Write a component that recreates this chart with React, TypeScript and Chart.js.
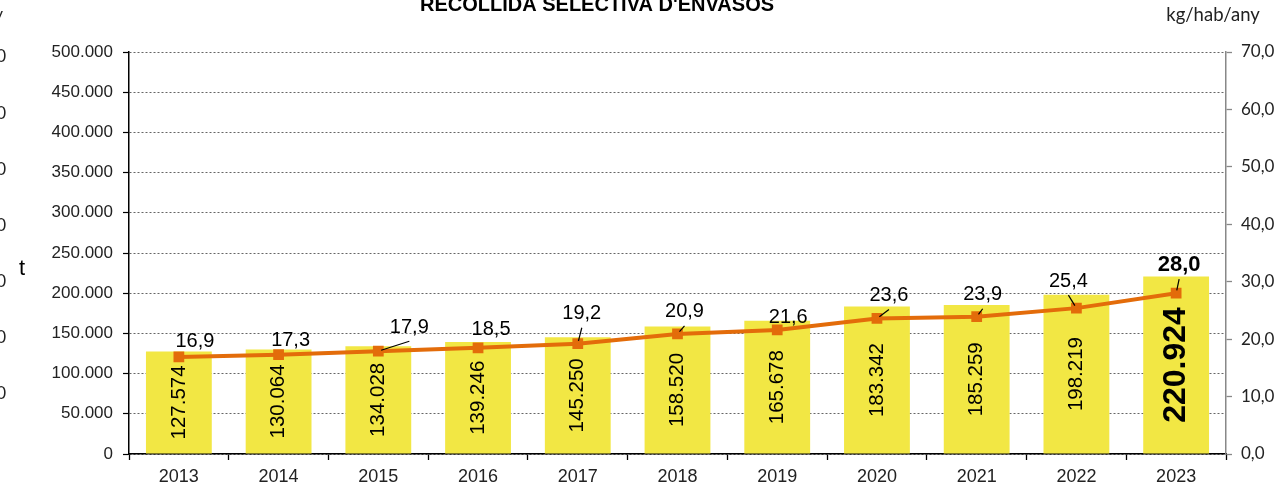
import React, { useEffect, useRef } from 'react';
import { Chart, registerables } from 'chart.js';

Chart.register(...registerables);

const years = ['2013', '2014', '2015', '2016', '2017', '2018', '2019', '2020', '2021', '2022', '2023'];
const tonnes = [127574, 130064, 134028, 139246, 145250, 158520, 165678, 183342, 185259, 198219, 220924];
const kgPerHab = [16.9, 17.3, 17.9, 18.5, 19.2, 20.9, 21.6, 23.6, 23.9, 25.4, 28.0];
const leftTicksMax = 500000;
const leftTicksStep = 50000;
const rightTicksMax = 70;
const rightTicksStep = 10;
const titleText = "RECOLLIDA SELECTIVA D'ENVASOS";
const leftAxisTitle = 't';
const rightAxisTitle = 'kg/hab/any';
const edgeLabels = ['70,0', '60,0', '50,0', '40,0', '30,0', '20,0', '10,0'];

// label placement (style): offset of the line label from its point, and whether it has a leader line
const lineLabelOffsets: [number, number, boolean][] = [
  [16, -15, false],
  [12, -14, false],
  [31, -24, true],
  [13, -18, false],
  [4, -30, true],
  [7, -22, true],
  [11, -12, false],
  [12, -23, true],
  [6, -22, true],
  [-8, -27, true],
  [3, -28, true],
];

const fmtThousands = (n: number) => String(Math.round(n)).replace(/\B(?=(\d{3})+(?!\d))/g, '.');
const fmtDec = (n: number) => n.toFixed(1).replace('.', ',');

const ARIAL = '"Liberation Sans", Arial, sans-serif';
const CALIBRI = 'Lato, "Open Sans", sans-serif';

const overlay = {
  id: 'overlay',
  afterDatasetsDraw(chart: any) {
    const ctx = chart.ctx as CanvasRenderingContext2D;
    const barMeta = chart.getDatasetMeta(0);
    const lineMeta = chart.getDatasetMeta(1);
    const last = tonnes.length - 1;
    ctx.save();
    ctx.fillStyle = '#000';
    ctx.textAlign = 'center';
    ctx.textBaseline = 'middle';
    barMeta.data.forEach((bar: any, i: number) => {
      const p = bar.getProps(['x', 'y', 'base'], true);
      ctx.save();
      ctx.translate(p.x, (p.y + p.base) / 2);
      ctx.rotate(-Math.PI / 2);
      ctx.font = i === last ? `bold 32px ${ARIAL}` : `20.5px ${ARIAL}`;
      ctx.fillText(fmtThousands(tonnes[i]), 0, 0);
      ctx.restore();
    });
    lineMeta.data.forEach((pt: any, i: number) => {
      const [dx, dy, leader] = lineLabelOffsets[i];
      const lx = pt.x + dx;
      const ly = pt.y + dy;
      if (leader) {
        const ex = lx;
        const ey = ly + 14;
        const vx = ex - pt.x;
        const vy = ey - pt.y;
        const len = Math.hypot(vx, vy) || 1;
        ctx.beginPath();
        ctx.strokeStyle = '#000';
        ctx.lineWidth = 1.2;
        ctx.moveTo(pt.x + (vx / len) * 3, pt.y + (vy / len) * 3);
        ctx.lineTo(ex, ey);
        ctx.stroke();
      }
      ctx.font = i === last ? `bold 22px ${ARIAL}` : `20px ${ARIAL}`;
      ctx.fillText(fmtDec(kgPerHab[i]), lx, ly);
    });
    ctx.restore();
  },
  afterDraw(chart: any) {
    const ctx = chart.ctx as CanvasRenderingContext2D;
    ctx.save();
    ctx.fillStyle = '#000';
    ctx.textAlign = 'center';
    ctx.textBaseline = 'alphabetic';
    ctx.font = `bold 20px ${ARIAL}`;
    ctx.fillText(titleText, 597, 11);
    ctx.textBaseline = 'middle';
    ctx.font = `22px ${ARIAL}`;
    ctx.fillText(leftAxisTitle, 22, 269);
    ctx.font = `18.5px ${CALIBRI}`;
    ctx.fillStyle = '#222';
    ctx.fillText(rightAxisTitle, 1213, 15);
    ctx.textAlign = 'right';
    ctx.font = `17px ${CALIBRI}`;
    ctx.fillText(rightAxisTitle, 3, 15);
    edgeLabels.forEach((t, i) => {
      ctx.fillText(t, 6, 57 + i * 56.1);
    });
    ctx.restore();
  },
};

export default function App() {
  const ref = useRef<HTMLCanvasElement | null>(null);
  useEffect(() => {
    if (!ref.current) return;
    const chart = new Chart(ref.current, {
      type: 'bar',
      data: {
        labels: years,
        datasets: [
          {
            type: 'bar',
            data: tonnes,
            yAxisID: 'y',
            backgroundColor: '#F2E744',
            barPercentage: 0.66,
            categoryPercentage: 1,
            order: 2,
          } as any,
          {
            type: 'line',
            data: kgPerHab,
            yAxisID: 'y1',
            borderColor: '#E36C0A',
            backgroundColor: '#E36C0A',
            borderWidth: 4,
            pointStyle: 'rect',
            pointRadius: 7.6,
            pointBorderWidth: 0,
            pointBackgroundColor: '#E36C0A',
            tension: 0,
            order: 1,
          } as any,
        ],
      },
      options: {
        responsive: false,
        animation: false,
        devicePixelRatio: 1,
        layout: { padding: { top: 52, left: 0, right: 0, bottom: 0 } },
        plugins: { legend: { display: false }, tooltip: { enabled: false }, title: { display: false } },
        scales: {
          x: {
            type: 'category',
            offset: true,
            grid: { drawOnChartArea: false, offset: true, tickLength: 6, tickColor: '#000', tickWidth: 1.3 },
            border: { color: '#000', width: 1.5 },
            ticks: { font: { family: ARIAL, size: 18 }, color: '#222', padding: 6, maxRotation: 0 },
            afterFit: (s: any) => { s.height = 36; },
          },
          y: {
            position: 'left',
            min: 0,
            max: leftTicksMax,
            grid: { color: '#666', lineWidth: 1, tickLength: 6, tickColor: '#000', tickBorderDash: [], tickWidth: 1.2 },
            border: { color: '#000', width: 1.5, dash: [2, 2] },
            ticks: {
              stepSize: leftTicksStep,
              font: { family: ARIAL, size: 17 },
              color: '#222',
              padding: 10,
              callback: (v: any) => fmtThousands(Number(v)),
            },
            afterFit: (s: any) => { s.width = 129; },
          },
          y1: {
            position: 'right',
            min: 0,
            max: rightTicksMax,
            grid: { drawOnChartArea: false, tickLength: 6, tickColor: '#888', tickWidth: 1.3 },
            border: { color: '#888', width: 1.5 },
            ticks: {
              stepSize: rightTicksStep,
              font: { family: CALIBRI, size: 17 },
              color: '#222',
              padding: 9,
              callback: (v: any) => fmtDec(Number(v)),
            },
            afterFit: (s: any) => { s.width = 58; },
          },
        },
      } as any,
      plugins: [overlay],
    });
    return () => chart.destroy();
  }, []);
  return (
    <div style={{ position: 'absolute', left: 0, top: 0, width: 1284, height: 490, background: '#fff' }}>
      <canvas ref={ref} width={1284} height={490} />
    </div>
  );
}
